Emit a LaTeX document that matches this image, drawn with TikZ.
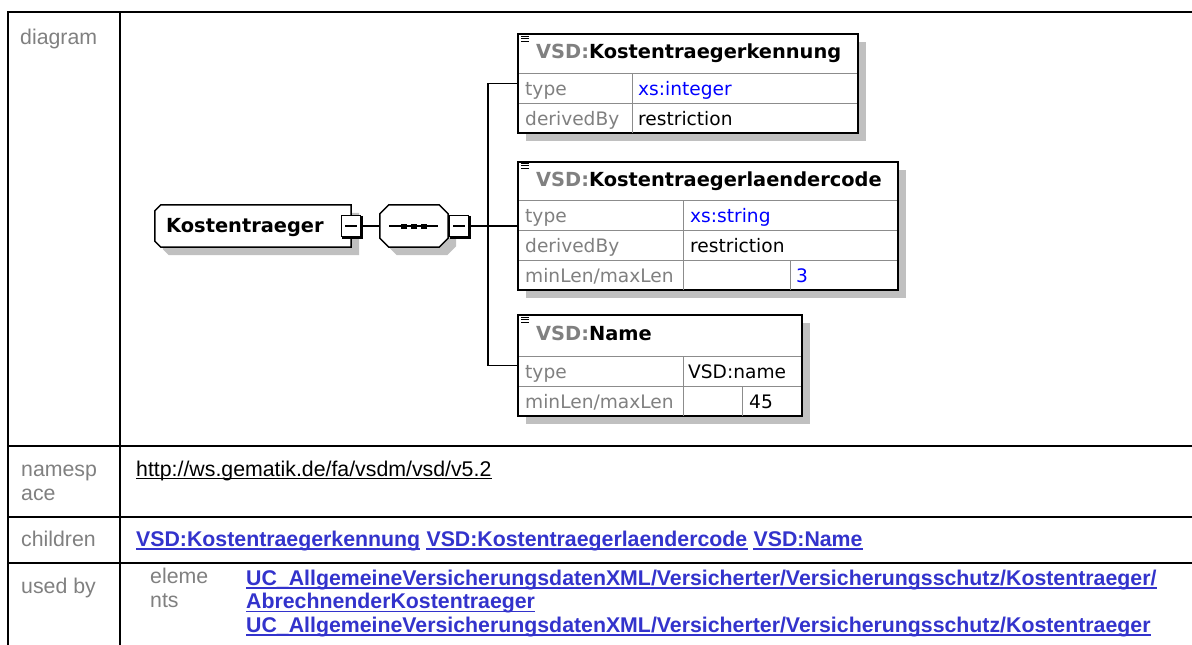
\documentclass[tikz,border=0pt]{standalone}
\usepackage{fontspec}
\setmainfont{Liberation Sans}
\newfontfamily\dvs{DejaVu Sans}
\usetikzlibrary{calc,shadows}
\definecolor{lblgray}{HTML}{808080}
\definecolor{linkc}{HTML}{3333CC}
\definecolor{shadowc}{HTML}{C0C0C0}
\definecolor{xsblue}{HTML}{0000FF}
\definecolor{rowline}{HTML}{8C8C8C}
\begin{document}
\begin{tikzpicture}[x=1pt,y=-1pt,
  tbl/.style={line width=2pt,black,line cap=rect},
  tfont/.style={font=\fontsize{21.3}{23.5}\selectfont},
  tlabel/.style={tfont,inner sep=0,anchor=base west,text=lblgray},
  nslink/.style={tfont,inner sep=0,anchor=base west,text=black},
  blink/.style={tfont,font=\fontsize{21.3}{23.5}\selectfont\bfseries,inner sep=0,anchor=base west,text=linkc},
  ulthin/.style={draw=black,line width=1pt},
  ulblue/.style={draw=linkc,line width=1.8pt},
  shad/.style={drop shadow={shadow xshift=8pt,shadow yshift=-8pt,fill=shadowc,opacity=1}},
  cbox/.style={draw=black,line width=1.5pt,fill=white,inner sep=0,shad},
  elshape/.style={draw=black,line width=1.5pt,fill=white,shad},
  geom/.style={inner sep=0,draw=none},
  rowln/.style={draw=rowline,line width=1pt},
  dlbl/.style={inner sep=0,anchor=base west,font=\dvs\fontsize{18.6}{20}\selectfont,text=lblgray},
  dval/.style={inner sep=0,anchor=base west,font=\dvs\fontsize{18.6}{20}\selectfont,text=black},
  dblue/.style={dval,text=xsblue},
  dbold/.style={inner sep=0,anchor=base west,font=\dvs\bfseries\fontsize{19.4}{20}\selectfont,text=black},
  minusbox/.style={draw=black,fill=white,line width=1.3pt,minimum width=19pt,minimum height=21pt,inner sep=0},
  mbshade/.style={draw=black,line width=2pt},
  minusln/.style={draw=black,line width=1.2pt},
  conn/.style={draw=black,line width=1.5pt},
  dot/.style={fill=black,minimum width=6pt,minimum height=5pt,inner sep=0},
  pics/hdicon/.style={code={\draw[line width=0.8pt] (0,0) -- (8,0) (0,2.5) -- (8,2.5) (0,5) -- (8,5);}}
]
\useasboundingbox (0,0) rectangle (1192,645);
\fill[white] (0,0) rectangle (1192,645);

% ---------- table ----------
\draw[tbl] (1195,12) -- (8,12) -- (8,648);
\draw[tbl] (120,12) -- (120,648);
\draw[tbl] (8,446) -- (1195,446);
\draw[tbl] (8,517) -- (1195,517);
\draw[tbl] (8,563) -- (1195,563);

\node[tlabel] (ldiag) at (20,45) {diagram};
\node[tlabel] (lns1) at (21,476) {namesp};
\node[tlabel] (lns2) at (21,500) {ace};
\node[tlabel] (lch) at (21,546) {children};
\node[tlabel] (lub) at (21,593) {used by};
\node[tlabel] (lel1) at (150,583) {eleme};
\node[tlabel] (lel2) at (150,607) {nts};

\node[nslink] (ns) at (136,476) {http://ws.gematik.de/fa/vsdm/vsd/v5.2};
\draw[ulthin] ([yshift=-2pt]ns.base west) -- ([yshift=-2pt]ns.base east);

\node[blink] (ch1) at (136,546) {VSD:Kostentraegerkennung};
\node[blink] (ch2) at ([xshift=5.9pt]ch1.base east) {VSD:Kostentraegerlaendercode};
\node[blink] (ch3) at ([xshift=5.9pt]ch2.base east) {VSD:Name};
\foreach \n in {ch1,ch2,ch3}{
  \draw[ulblue] ([yshift=-3pt]\n.base west) -- ([yshift=-3pt]\n.base east);
}

\node[blink] (ub1) at (246,585) {UC\_AllgemeineVersicherungsdatenXML/Versicherter/Versicherungsschutz/Kostentraeger/};
\node[blink] (ub2) at (246,608.5) {AbrechnenderKostentraeger};
\node[blink] (ub3) at (246,632) {UC\_AllgemeineVersicherungsdatenXML/Versicherter/Versicherungsschutz/Kostentraeger};
\foreach \n in {ub1,ub2,ub3}{
  \draw[ulblue] ([yshift=-3pt]\n.base west) -- ([yshift=-3pt]\n.base east);
}

% ---------- diagram: geometry nodes ----------
\node[geom,minimum width=196pt,minimum height=42pt] (kt) at (253,226) {};
\node[geom,minimum width=68pt,minimum height=42pt] (seq) at (414,226) {};
\coordinate (bus) at (488,226);

% child boxes
\node[cbox,minimum width=340pt,minimum height=99pt] (c1) at (688,83.5) {};
\node[cbox,minimum width=380pt,minimum height=128pt] (c2) at (708,226) {};
\node[cbox,minimum width=284pt,minimum height=101pt] (c3) at (660,365.5) {};

% connectors
\draw[conn] (c1.west) -| (bus) |- (c3.west);
\draw[conn] (bus) -- (c2.west);

% element Kostentraeger
\draw[elshape] ($(kt.north west)+(6,0)$) -- (kt.north east) -- (kt.south east)
  -- ($(kt.south west)+(6,0)$) -- ($(kt.south west)+(0,-6)$) -- ($(kt.north west)+(0,6)$) -- cycle;
\node[dbold] (ktl) at (166,232) {Kostentraeger};

% sequence compositor
\draw[elshape] ($(seq.north west)+(9,0)$) -- ($(seq.north east)+(-9,0)$) -- ($(seq.north east)+(0,9)$)
  -- ($(seq.south east)+(0,-9)$) -- ($(seq.south east)+(-9,0)$) -- ($(seq.south west)+(9,0)$)
  -- ($(seq.south west)+(0,-9)$) -- ($(seq.north west)+(0,9)$) -- cycle;
\draw[line width=1.2pt] ($(seq.center)+(-25,0)$) -- ($(seq.center)+(24,0)$);
\node[dot] (d1) at ($(seq.center)+(-10,0)$) {};
\node[dot] (d2) at (seq.center) {};
\node[dot] (d3) at ($(seq.center)+(10,0)$) {};

% minus boxes
\node[minusbox] (ktm) at (351,226) {};
\node[minusbox] (seqm) at (459,226) {};
\foreach \m in {ktm,seqm}{
  \draw[mbshade] ($(\m.north east)+(1,1)$) -- ($(\m.south east)+(1,1)$) -- ($(\m.south west)+(1,1)$);
  \draw[minusln] ($(\m.center)+(-6,0)$) -- ($(\m.center)+(6,0)$);
}
\draw[conn] (ktm.east) -- (seq.west);
\draw[conn] ([xshift=1pt]seqm.east) -- (bus);

% ---------- child 1 ----------
\draw[rowln] (519,73) -- (857,73);
\draw[rowln] (519,103) -- (857,103);
\draw[rowln] (632,73) -- (632,133);
\pic at ([shift={(4,3)}]c1.north west) {hdicon};
\node[dbold] (c1h) at (536,58) {\textcolor{lblgray}{VSD:}Kostentraegerkennung};
\node[dlbl] (c1a) at (525,95) {type};
\node[dblue] (c1b) at (638,95) {xs:integer};
\node[dlbl] (c1c) at (525,125) {derivedBy};
\node[dval] (c1d) at (638,125) {restriction};

% ---------- child 2 ----------
\draw[rowln] (519,200) -- (897,200);
\draw[rowln] (519,230) -- (897,230);
\draw[rowln] (519,260) -- (897,260);
\draw[rowln] (683,200) -- (683,290);
\draw[rowln] (790,260) -- (790,290);
\pic at ([shift={(4,2)}]c2.north west) {hdicon};
\node[dbold] (c2h) at (536,186) {\textcolor{lblgray}{VSD:}Kostentraegerlaendercode};
\node[dlbl] (c2a) at (525,222) {type};
\node[dblue] (c2b) at (690,222) {xs:string};
\node[dlbl] (c2c) at (525,252) {derivedBy};
\node[dval] (c2d) at (690,252) {restriction};
\node[dlbl] (c2e) at (525,282) {minLen/maxLen};
\node[dblue] (c2f) at (796,282) {3};

% ---------- child 3 ----------
\draw[rowln] (519,356) -- (801,356);
\draw[rowln] (519,386) -- (801,386);
\draw[rowln] (683,356) -- (683,416);
\draw[rowln] (742,386) -- (742,416);
\pic at ([shift={(4,3)}]c3.north west) {hdicon};
\node[dbold] (c3h) at (536,340) {\textcolor{lblgray}{VSD:}Name};
\node[dlbl] (c3a) at (525,378) {type};
\node[dval] (c3b) at (688,378) {VSD:name};
\node[dlbl] (c3c) at (525,408) {minLen/maxLen};
\node[dval] (c3d) at (749,408) {45};
\end{tikzpicture}
\end{document}
